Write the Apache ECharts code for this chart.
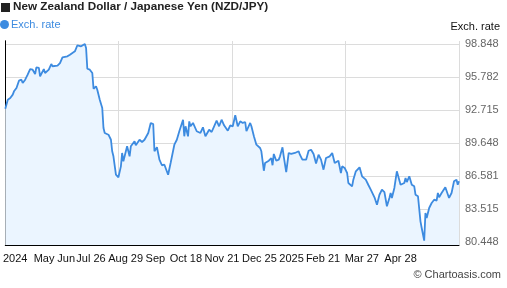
<!DOCTYPE html>
<html>
<head>
<meta charset="utf-8">
<script src="https://cdn.jsdelivr.net/npm/echarts@6/dist/echarts.min.js"></script>
<style>html,body{margin:0;padding:0;background:#fff}#c{width:507px;height:288px}</style>
</head>
<body>
<div id="c"></div>
<script>
const days = [0,2,4,6,7,9,11,13,14,16,18,20,22,24,25,27,28,31,32,35,37,38,42,44,46,50,52,56,58,61,64,65,66,68,70,71,73,74,76,78,79,80,83,85,86,87,89,91,93,94,95,98,100,101,104,105,108,110,112,115,117,119,120,122,124,126,128,129,131,133,136,138,140,141,143,144,145,147,148,149,151,154,157,159,161,164,166,168,170,172,174,176,179,181,183,185,187,189,191,193,194,197,198,200,202,205,206,208,209,212,214,215,216,218,220,221,223,224,226,228,230,233,236,237,239,240,242,244,246,248,250,252,254,256,257,258,261,263,264,265,268,270,271,273,275,276,279,280,282,283,285,287,290,292,294,297,299,301,303,305,307,309,310,311,313,315,316,318,319,321,322,323,325,327,329,330,332,334,335,337,338,339,341,343,345,347,348,349,351,354,355,357,359,361,363,364,365];
const rates = [92.84,93.67,93.83,94.14,94.45,94.76,95.44,95.53,95.22,95.53,96.00,96.52,96.46,96.06,96.68,96.62,95.85,96.52,96.15,96.46,96.99,96.78,96.83,97.08,97.61,97.70,97.85,98.17,98.73,98.63,98.85,98.48,96.55,96.46,96.15,94.69,94.92,94.60,93.67,92.90,91.04,90.58,90.42,89.95,88.88,88.41,86.70,86.46,87.48,88.72,87.95,89.34,88.41,89.34,89.81,89.43,89.95,89.74,89.95,90.58,91.51,91.41,88.88,89.25,88.10,87.58,87.63,87.58,86.70,87.79,89.49,89.95,90.74,90.88,91.81,90.27,91.20,90.27,91.66,91.20,91.51,90.74,90.58,91.11,90.27,90.88,90.67,91.20,91.72,91.20,91.81,91.29,90.79,91.29,91.20,92.22,91.20,91.66,91.51,91.60,90.74,91.51,91.20,90.27,89.49,89.18,88.88,87.07,87.79,88.00,88.25,87.58,88.63,88.00,88.10,88.41,89.25,88.41,86.95,88.72,88.63,88.72,88.88,88.56,88.10,88.25,88.10,88.93,89.02,88.62,87.75,88.56,88.10,87.17,87.33,88.25,88.41,88.72,88.88,87.79,88.00,86.86,87.48,87.33,86.86,85.93,85.62,86.24,87.02,86.95,87.39,86.55,86.24,85.77,85.31,84.60,83.91,84.84,85.31,85.09,83.77,84.54,85.00,84.54,85.47,87.02,86.86,85.77,85.62,85.93,86.40,86.02,86.55,85.77,85.62,84.84,84.70,82.37,81.75,80.57,83.14,82.68,83.61,84.07,84.38,84.29,85.00,84.60,85.00,85.53,85.62,84.54,85.00,86.09,86.24,85.77,86.09];
const yTicks = [80.448, 83.515, 86.581, 89.648, 92.715, 95.782, 98.848];
const xLabelDays = [8.0, 31.2, 49.0, 68.9, 96.8, 120.7, 145.3, 174.3, 204.4, 230.3, 255.6, 286.8, 318];
const xLabelTexts = ['2024', 'May', 'Jun', 'Jul 26', 'Aug 29', 'Sep', 'Oct 18', 'Nov 21', 'Dec 25', '2025', 'Feb 21', 'Mar 27', 'Apr 28'];
const seriesName = 'Exch. rate';

const FONT = '"Liberation Sans", Arial, sans-serif';
const step = (yTicks[1] - yTicks[0]) / 33 * 3; // 3px padding above/below
const yMin = yTicks[0] - step, yMax = yTicks[yTicks.length - 1] + step;

const chart = echarts.init(document.getElementById('c'), null, {renderer: 'canvas'});
chart.setOption({
  animation: false,
  backgroundColor: '#fff',
  textStyle: {fontFamily: FONT},
  title: [
    {text: 'New Zealand Dollar / Japanese Yen (NZD/JPY)', left: 13, top: 1, padding: 0,
     textStyle: {fontSize: 11.7, fontWeight: 'bold', color: '#222', fontFamily: FONT}},
    {text: 'Exch. rate', right: 7, top: 21, padding: 0,
     textStyle: {fontSize: 11, fontWeight: 'normal', color: '#111', fontFamily: FONT}},
    {text: '© Chartoasis.com', right: 6, top: 269, padding: 0,
     textStyle: {fontSize: 11, fontWeight: 'normal', color: '#444', fontFamily: FONT}}
  ],
  graphic: [{type: 'rect', left: 1, top: 3, shape: {width: 9, height: 9}, style: {fill: '#222'}}],
  legend: {left: 0, top: 19, padding: 0, icon: 'circle', itemWidth: 9, itemHeight: 9,
    data: [seriesName], selectedMode: false,
    textStyle: {fontSize: 11, color: '#3d8be0', fontFamily: FONT, padding: [0, 0, 0, -3]}},
  grid: {left: 1, right: 48, top: 41, bottom: 43, containLabel: false},
  xAxis: [
    {type: 'value', min: 0, max: 365, interval: 91.25,
     axisLine: {show: true, lineStyle: {color: '#000', width: 1}},
     axisTick: {show: false}, axisLabel: {show: false},
     splitLine: {show: true, lineStyle: {color: '#dcdcdc', width: 1}}},
    {type: 'value', min: 0, max: 365, position: 'bottom',
     axisLine: {show: false}, splitLine: {show: false},
     axisTick: {show: false, customValues: xLabelDays},
     axisLabel: {show: true, customValues: xLabelDays, margin: 8, fontSize: 11, color: '#111', fontFamily: FONT,
       showMinLabel: true, showMaxLabel: true,
       formatter: function (v) {
         for (let i = 0; i < xLabelDays.length; i++) if (Math.abs(xLabelDays[i] - v) < 1e-6) return xLabelTexts[i];
         return '';
       }}}
  ],
  yAxis: [
    {type: 'value', position: 'right', min: yMin, max: yMax,
     axisLine: {show: true, lineStyle: {color: '#000', width: 1}},
     axisTick: {show: false, customValues: yTicks},
     axisLabel: {show: true, customValues: yTicks, margin: 6, fontSize: 11, color: '#666', fontFamily: FONT,
       formatter: function (v) { return v.toFixed(3); }},
     splitLine: {show: true, lineStyle: {color: '#dcdcdc', width: 1}}},
    {type: 'value', position: 'left', min: yMin, max: yMax,
     axisLine: {show: true, onZero: false, lineStyle: {color: '#000', width: 1}},
     axisTick: {show: false}, axisLabel: {show: false}, splitLine: {show: false}}
  ],
  series: [{
    name: seriesName, type: 'line', xAxisIndex: 0, yAxisIndex: 0,
    data: days.map((d, i) => [d, rates[i]]),
    showSymbol: false, symbol: 'circle', smooth: false,
    lineStyle: {color: '#3d8be0', width: 1.8},
    itemStyle: {color: '#3d8be0'},
    areaStyle: {color: '#ebf5ff', origin: 'start', opacity: 1}
  }]
});
</script>
</body>
</html>
